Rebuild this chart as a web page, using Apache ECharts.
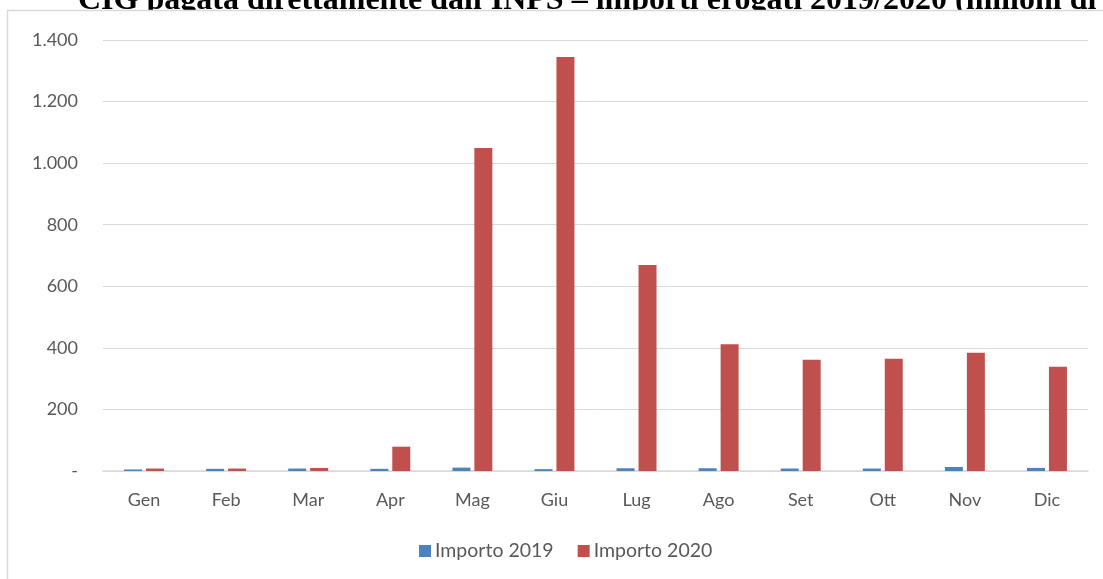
<!DOCTYPE html>
<html><head><meta charset="utf-8">
<script src="https://cdn.jsdelivr.net/npm/echarts@6/dist/echarts.min.js"></script>
<style>html,body{margin:0;padding:0;background:#fff}#c{width:1103px;height:579px}</style>
</head><body><div id="c"></div>
<script>
const categories = ["Gen","Feb","Mar","Apr","Mag","Giu","Lug","Ago","Set","Ott","Nov","Dic"];
const importo2019 = [5, 7, 8, 7, 11, 6, 9, 9, 8, 8, 13, 10];
const importo2020 = [8, 8, 10, 79, 1049, 1345, 669, 412, 361, 365, 384, 339];
const yTicks = {min: 0, max: 1400, interval: 200};
const titleText = "CIG pagata direttamente dall'INPS – importi erogati 2019/2020 (milioni di euro)";

const chart = echarts.init(document.getElementById('c'), null, {renderer: 'canvas'});
const fmt = v => v === 0 ? '-' : String(v).replace(/\B(?=(\d{3})+(?!\d))/g, '.');
chart.setOption({
  animation: false,
  graphic: [
    {type: 'text', z: -10, style: {
      text: titleText, x: 78, y: 17, verticalAlign: 'bottom', align: 'left',
      font: 'bold 32px "Liberation Serif"', fill: '#000'}},
    {type: 'rect', z: -5, shape: {x: 7.5, y: 10.5, width: 1200, height: 700},
     style: {fill: '#fff', stroke: '#d9d9d9', lineWidth: 1.5}}
  ],
  grid: {left: 103, right: 15, top: 40, bottom: 108, containLabel: false},
  legend: {
    data: ['Importo 2019', 'Importo 2020'], top: 536, left: 414,
    itemWidth: 12, itemHeight: 12, itemGap: 24, icon: 'rect',
    textStyle: {fontFamily: 'Lato', fontSize: 19.5, color: '#595959', padding: [0, 0, 0, -1]}
  },
  xAxis: {
    type: 'category', data: categories,
    axisLine: {lineStyle: {color: '#d9d9d9', width: 1.5}},
    axisTick: {show: false},
    axisLabel: {fontFamily: 'Lato', fontSize: 18, color: '#595959', margin: 20}
  },
  yAxis: {
    type: 'value', min: yTicks.min, max: yTicks.max, interval: yTicks.interval,
    axisLine: {show: false}, axisTick: {show: false},
    splitLine: {lineStyle: {color: '#d9d9d9', width: 1}},
    axisLabel: {fontFamily: 'Lato', fontSize: 18, color: '#595959', margin: 25, formatter: fmt}
  },
  series: [
    {name: 'Importo 2019', type: 'bar', data: importo2019, barWidth: 18, barGap: '22%',
     itemStyle: {color: '#4f81bd'}},
    {name: 'Importo 2020', type: 'bar', data: importo2020, barWidth: 18,
     itemStyle: {color: '#c0504d'}}
  ]
});
</script></body></html>
